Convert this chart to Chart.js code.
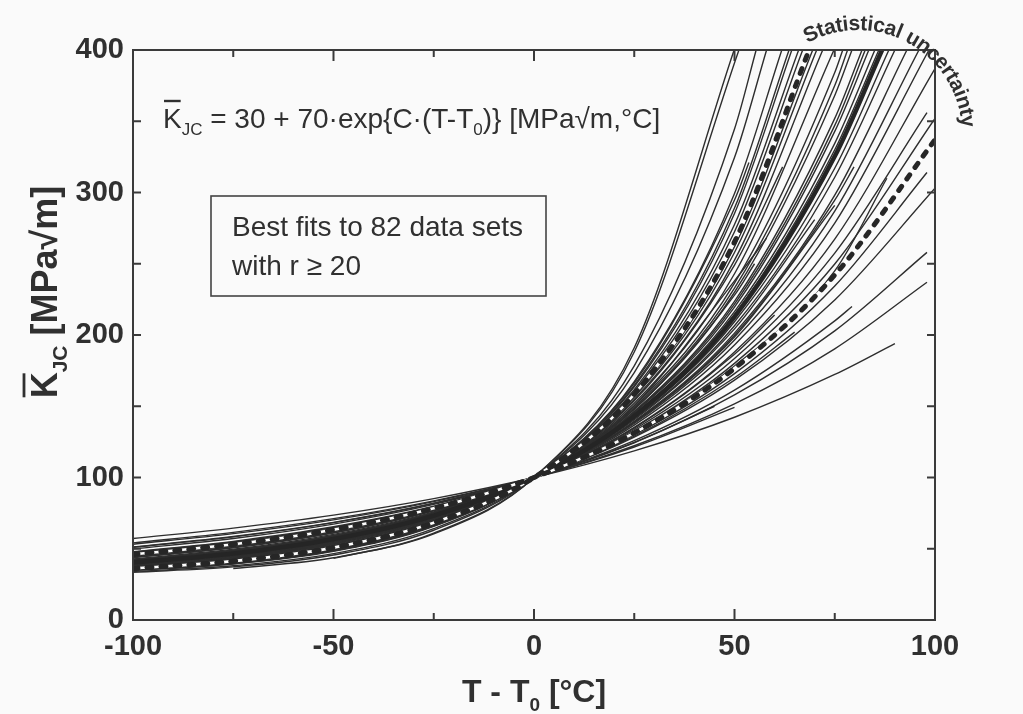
<!DOCTYPE html>
<html><head><meta charset="utf-8">
<script src="https://cdn.jsdelivr.net/npm/chart.js@4/dist/chart.umd.min.js"></script>
<style>html,body{margin:0;padding:0;background:#fafafa;}canvas{display:block}</style>
</head><body>
<canvas id="c" width="1023" height="714"></canvas>
<script>
// ---------- data ----------
const T_GRID = [-100, -75, -50, -25, 0, 25, 50, 75, 100];   // T - T0 [°C]
const X_TICKS = [-100, -50, 0, 50, 100];
const Y_TICKS = [0, 100, 200, 300, 400];

// Individual best fits: K_JC values at T_GRID (null = not drawn there)
const FIT_K = [
  [null, null, 43.2, 60.4, 100, 191.1, null, null, null],
  [null, 36.1, 43.7, 61.0, 100, 188.1, null, null, null],
  [33.5, 37.3, 45.6, 63.0, 100, 178.4, 344.6, null, null],
  [34.0, 38.1, 46.6, 64.1, 100, 173.6, 324.5, null, null],
  [34.7, 39.3, 48.2, 65.7, 100, 167.3, 299.3, null, null],
  [35.1, 39.8, 48.9, 66.4, 100, 164.7, 289.1, null, null],
  [35.3, 40.0, 49.2, 66.6, 100, 163.7, 285.3, null, null],
  [35.6, 40.5, 49.8, 67.2, 100, 161.6, 277.5, null, null],
  [null, null, 50.2, 67.6, 100, 160.3, 272.5, null, null],
  [36.6, 41.9, 51.5, 68.8, 100, 156.3, 257.9, null, null],
  [36.9, 42.3, 52.0, 69.3, 100, 154.8, 252.5, null, null],
  [37.6, 43.2, 53.0, 70.1, 100, 152.1, 243.0, null, null],
  [38.1, 43.8, 53.7, 70.8, 100, 150.2, 236.4, 384.2, null],
  [38.3, 44.2, 54.2, 71.1, 100, 149.1, 232.9, 375.1, null],
  [38.6, 44.5, 54.5, 71.4, 100, 148.3, 230.0, 368.1, null],
  [39.2, 45.2, 55.3, 72.1, 100, 146.4, 223.6, 352.0, null],
  [39.3, 45.5, 55.6, 72.3, 100, 145.9, 221.7, 347.1, null],
  [39.5, 45.7, 55.8, 72.5, 100, 145.2, 219.6, 342.9, null],
  [39.9, 46.1, 56.3, 72.9, 100, 144.2, 216.4, 334.5, null],
  [40.7, 47.1, 57.3, 73.8, 100, 142.0, 209.3, 317.0, null],
  [41.0, 47.5, 57.8, 74.1, 100, 141.2, 206.5, 310.7, null],
  [41.7, 48.3, 58.6, 74.8, 100, 139.5, 201.3, 298.1, null],
  [42.4, 49.1, 59.4, 75.4, 100, 137.9, 196.5, 286.9, null],
  [42.9, 49.7, 60.1, 75.9, 100, 136.8, 193.0, 278.5, null],
  [43.7, 50.6, 61.0, 76.6, 100, 135.2, 188.1, 267.3, 387],
  [44.6, 51.5, 61.9, 77.3, 100, 133.7, 183.5, 257.5, null],
  [45.2, 52.3, 62.6, 77.8, 100, 132.5, 180.1, 249.8, 352],
  [46.8, 54.0, 64.3, 79.0, 100, 130.0, 172.9, 234.4, null],
  [47.9, 55.2, 65.4, 79.8, 100, 128.4, 168.3, 224.6, 303],
  [49.9, 57.2, 67.3, 81.1, 100, 125.9, 161.3, 209.9, null],
  [51.0, 58.3, 68.3, 81.8, 100, 124.6, 158.0, 202.9, null],
  [53.2, 60.6, 70.3, 83.1, 100, 122.3, 151.7, 190.3, null],
  [57.2, 64.5, 73.6, 85.2, 100, 118.7, 142.3, 172.3, null],
  [41.9, 48.5, 58.9, 75.0, 100, 139.0, 199.8, 294.6, null],
  [34.9, 39.5, 48.5, 66.0, 100, 166.2, 294.7, null, null],
  [38.8, 44.7, 54.7, 71.6, 100, 147.7, 228.0, null, null],
  [44.0, 51.0, 61.3, 76.8, 100, 134.7, 186.5, null, null],
  [47.5, 54.7, 65.0, 79.5, 100, 129.0, 170.0, null, null],
  [41.3, 47.8, 58.1, 74.4, 100, 140.5, 204.3, null, null],
  [54.1, 61.5, 71.1, 83.6, 100, 121.4, 149.2, null, null],
  [51.2, 58.6, 68.5, 81.9, 100, 124.4, null, null, null],
  [37.1, 42.6, 52.4, 69.6, 100, 153.8, 249.1, null, null],
  [42.1, 48.8, 59.1, 75.1, 100, 138.6, 198.6, 291.0, null],
  [40.0, 46.3, 56.5, 73.1, 100, 143.6, 214.5, 330.0, null],
  [38.0, 43.6, 53.5, 70.6, 100, 150.6, 238.0, null, null],
  [45.8, 52.8, 63.0, 78.1, 100, 131.8, 178.2, 245.0, null],
  [36.4, 41.6, 51.2, 68.5, 100, 157.4, 262.0, null, null]
];
// Last point of each fit [T, K] (where it leaves the frame or stops); null = ends on grid
const FIT_END = [
  [49.9, 400], [51.1, 400], [55.4, 400], [58, 400], [61.8, 400], [63.6, 400], [64.3, 400],
  [66, 400], [67, 400], [70.5, 400], [72, 400], [74.8, 400], [77, 400], [78.2, 400],
  [79.3, 400], [81.8, 400], [82.6, 400], [83.5, 400], [85, 400], [88.5, 400], [90, 400],
  [93, 400], [96, 400], [98.5, 400], null, [98, 356], null, [98, 314], null, [79.3, 220],
  [98, 258], [98, 237], [90, 194], [79.8, 318], [53.6, 321], [55, 250], [60, 214],
  [65, 202], [70, 281], null, [45, 150], [62, 318], null,
  [86, 400], [58, 268], [88, 310], [69.5, 400]
];
// Median fit (thick) and statistical uncertainty bounds (dashed)
const MEDIAN_K = [40.3, 46.6, 56.8, 73.3, 100, 143.1, 212.7, 325.4, null];
const MEDIAN_END = [86.8, 400];
const UPPER_K = [36.2, 41.3, 50.8, 68.2, 100, 158.4, 265.3, null, null];
const UPPER_END = [68.6, 400];
const LOWER_K = [46.0, 53.1, 63.4, 78.4, 100, 131.3, 176.6, 242.1, 337];
const LOWER_END = null;

// ---------- build datasets ----------
function toPoints(ks, end) {
  const pts = [];
  ks.forEach((k, i) => { if (k !== null) pts.push({ x: T_GRID[i], y: k }); });
  if (end) pts.push({ x: end[0], y: end[1] });
  return pts;
}
const datasets = [];
const DASH = { borderColor: '#262626', borderWidth: 5, borderDash: [5, 9], borderCapStyle: 'round', order: 1 };
const WHITE = { borderColor: '#ffffff', borderWidth: 2.6, order: 2 };
datasets.push(Object.assign({ data: toPoints(UPPER_K, UPPER_END) }, DASH));
datasets.push(Object.assign({ data: toPoints(LOWER_K, LOWER_END) }, DASH));
datasets.push(Object.assign({ data: toPoints(UPPER_K, UPPER_END) }, WHITE));
datasets.push(Object.assign({ data: toPoints(LOWER_K, LOWER_END) }, WHITE));
datasets.push({ data: toPoints(MEDIAN_K, MEDIAN_END), borderColor: '#252525', borderWidth: 4.5, order: 3 });
FIT_K.forEach((ks, i) => datasets.push({ data: toPoints(ks, FIT_END[i]), borderColor: '#2e2e2e', borderWidth: 1.4, order: 10 }));

const FAM = '"Liberation Sans", Arial, sans-serif';
const INK = '#303030';

function drawRuns(ctx, x, y, runs) {
  for (const r of runs) {
    ctx.font = r.f;
    const w = ctx.measureText(r.t).width;
    ctx.fillText(r.t, x, y + (r.dy || 0));
    if (r.over) {
      ctx.beginPath(); ctx.lineWidth = r.ow || 2;
      ctx.moveTo(x + 1, y - r.over); ctx.lineTo(x + w - 1, y - r.over); ctx.stroke();
    }
    x += w;
  }
  return x;
}
function runsWidth(ctx, runs) { let w = 0; for (const r of runs) { ctx.font = r.f; w += ctx.measureText(r.t).width; } return w; }

const decor = {
  id: 'decor',
  beforeDraw(chart) {
    const ctx = chart.ctx; ctx.save(); ctx.fillStyle = '#fafafa'; ctx.fillRect(0, 0, chart.width, chart.height); ctx.restore();
  },
  afterDatasetsDraw(chart) {
    const { ctx, chartArea: a, scales: { x, y } } = chart;
    ctx.save();
    ctx.strokeStyle = '#3a3a3a'; ctx.fillStyle = INK; ctx.lineWidth = 2;
    ctx.strokeRect(a.left, a.top, a.right - a.left, a.bottom - a.top);
    // inward ticks on all four sides
    for (let v = -100; v <= 100; v += 25) {
      const px = x.getPixelForValue(v), len = (v % 50 === 0) ? 11 : 7;
      ctx.beginPath(); ctx.moveTo(px, a.bottom); ctx.lineTo(px, a.bottom - len);
      ctx.moveTo(px, a.top); ctx.lineTo(px, a.top + len); ctx.stroke();
    }
    for (let v = 0; v <= 400; v += 50) {
      const py = y.getPixelForValue(v), len = 8;
      ctx.beginPath(); ctx.moveTo(a.left, py); ctx.lineTo(a.left + len, py);
      ctx.moveTo(a.right, py); ctx.lineTo(a.right - len, py); ctx.stroke();
    }
    // equation
    ctx.textBaseline = 'alphabetic'; ctx.textAlign = 'left'; ctx.strokeStyle = INK;
    const F = '28px ' + FAM, S = '17px ' + FAM;
    drawRuns(ctx, 163, 128, [
      { t: 'K', f: F, over: 27, ow: 2.4 }, { t: 'JC', f: S, dy: 7 },
      { t: ' = 30 + 70·exp{C·(T-T', f: F }, { t: '0', f: S, dy: 7 },
      { t: ')} [MPa√m,°C]', f: F }
    ]);
    // box
    ctx.lineWidth = 1.6; ctx.strokeStyle = '#444';
    ctx.strokeRect(211, 196, 335, 100);
    ctx.font = F;
    ctx.fillText('Best fits to 82 data sets', 232, 236);
    ctx.fillText('with r \u2265 20', 232, 275);
    // x title
    const BF = 'bold 32px ' + FAM, BS = 'bold 19px ' + FAM;
    const xr = [{ t: 'T - T', f: BF }, { t: '0', f: BS, dy: 9 }, { t: ' [°C]', f: BF }];
    const xw = runsWidth(ctx, xr);
    drawRuns(ctx, (a.left + a.right) / 2 - xw / 2, 702, xr);
    // y title
    ctx.save();
    ctx.translate(57, 292); ctx.rotate(-Math.PI / 2);
    ctx.strokeStyle = INK;
    const YF = 'bold 36px ' + FAM, YS = 'bold 21px ' + FAM;
    const yr = [{ t: 'K', f: YF, over: 33, ow: 2.8 }, { t: 'JC', f: YS, dy: 10 }, { t: ' [MPa√m]', f: YF }];
    const yw = runsWidth(ctx, yr);
    drawRuns(ctx, -yw / 2, 0, yr);
    ctx.restore();
    // curved label
    const txt = 'Statistical uncertainty';
    ctx.font = 'bold 21px ' + FAM; ctx.textAlign = 'center'; ctx.textBaseline = 'alphabetic';
    const cx = 858, cy = 134, r = 104;
    let ang = -119 * Math.PI / 180;
    for (const ch of txt) {
      const w = ctx.measureText(ch).width * 0.96;
      const mid = ang + (w / 2) / r;
      ctx.save();
      ctx.translate(cx + r * Math.cos(mid), cy + r * Math.sin(mid));
      ctx.rotate(mid + Math.PI / 2);
      ctx.fillText(ch, 0, 0);
      ctx.restore();
      ang += w / r;
    }
    ctx.restore();
  }
};

new Chart(document.getElementById('c'), {
  type: 'line',
  data: { datasets },
  plugins: [decor],
  options: {
    responsive: false, animation: false,
    layout: { padding: { left: 0, top: 50, right: 88, bottom: 0 } },
    plugins: { legend: { display: false }, tooltip: { enabled: false } },
    elements: { point: { radius: 0 }, line: { cubicInterpolationMode: 'monotone', fill: false } },
    scales: {
      x: {
        type: 'linear', min: -100, max: 100,
        grid: { display: false, drawTicks: false }, border: { display: false },
        afterBuildTicks(s) { s.ticks = X_TICKS.map(v => ({ value: v })); },
        ticks: { font: { family: FAM, size: 29, weight: 'bold' }, color: INK, padding: 10, maxRotation: 0, autoSkip: false },
        afterFit(s) { s.height = 94; }
      },
      y: {
        type: 'linear', min: 0, max: 400,
        grid: { display: false, drawTicks: false }, border: { display: false },
        afterBuildTicks(s) { s.ticks = Y_TICKS.map(v => ({ value: v })); },
        ticks: { font: { family: FAM, size: 29, weight: 'bold' }, color: INK, padding: 9, autoSkip: false },
        afterFit(s) { s.width = 133; }
      }
    }
  }
});
</script>
</body></html>
